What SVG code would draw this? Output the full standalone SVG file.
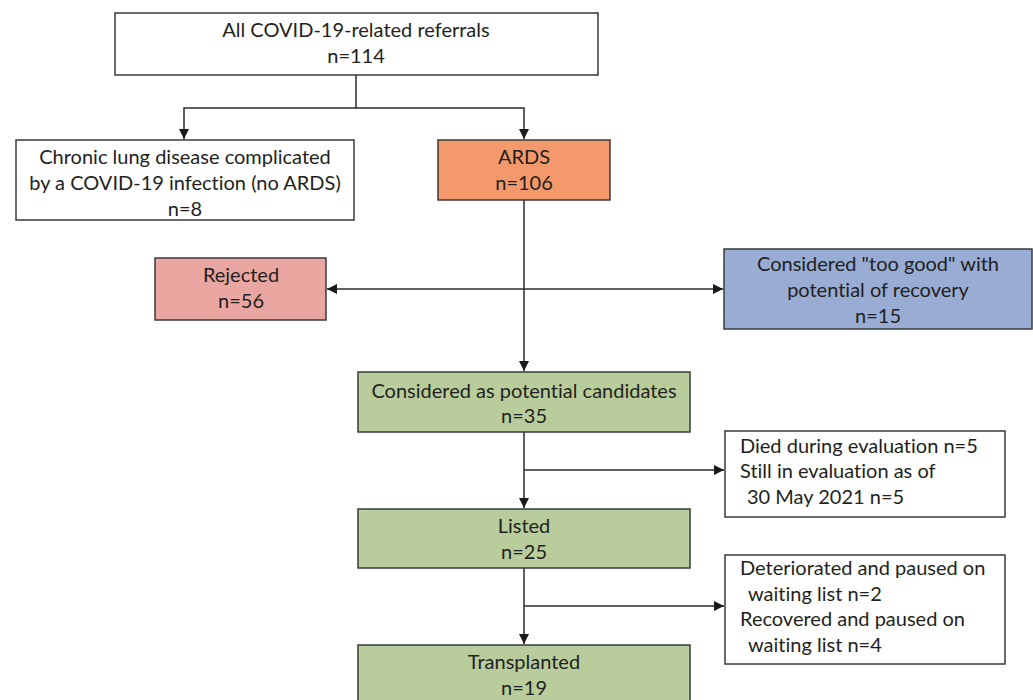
<svg xmlns="http://www.w3.org/2000/svg" width="1033" height="700" viewBox="0 0 1033 700">
<style>
.box{stroke:#3a3a3a;stroke-width:1.5}
.w{fill:#ffffff}
.t{font-family:Lato,"Liberation Sans",sans-serif;font-size:20px;fill:#231f20;font-variant-ligatures:none}
.c{text-anchor:middle}
.ln{fill:none;stroke:#2b2b2b;stroke-width:1.5}
</style>
<defs>
<marker id="ah" viewBox="0 0 10 10" refX="10" refY="5" markerWidth="10" markerHeight="10" markerUnits="userSpaceOnUse" orient="auto-start-reverse">
<path d="M0,0 L10,5 L0,10 z" fill="#1a1a1a"/>
</marker>
</defs>
<rect width="1033" height="700" fill="#ffffff"/>
<g id="connectors">
<path class="ln" d="M356,75 V108 H184 V139" marker-end="url(#ah)"/>
<path class="ln" d="M356,108 H524 V139" marker-end="url(#ah)"/>
<path class="ln" d="M524,200 V371" marker-end="url(#ah)"/>
<path class="ln" d="M327,289 H723" marker-start="url(#ah)" marker-end="url(#ah)"/>
<path class="ln" d="M524,432 V508" marker-end="url(#ah)"/>
<path class="ln" d="M524,470 H724" marker-end="url(#ah)"/>
<path class="ln" d="M524,568 V644" marker-end="url(#ah)"/>
<path class="ln" d="M524,606 H724" marker-end="url(#ah)"/>
</g>
<g id="all">
<rect class="box w" x="115" y="13" width="483" height="62"/>
<text class="t c" x="356" y="37">All COVID-19-related referrals</text>
<text class="t c" x="356" y="63">n=114</text>
</g>
<g id="chronic">
<rect class="box w" x="16" y="140" width="338" height="80"/>
<text class="t c" x="185" y="164">Chronic lung disease complicated</text>
<text class="t c" x="185" y="190">by a COVID-19 infection (no ARDS)</text>
<text class="t c" x="185" y="216">n=8</text>
</g>
<g id="ards">
<rect class="box" fill="#f4996b" x="438" y="140" width="172" height="60"/>
<text class="t c" x="524" y="164">ARDS</text>
<text class="t c" x="524" y="190">n=106</text>
</g>
<g id="rejected">
<rect class="box" fill="#eaa6a0" x="155" y="258" width="171" height="62"/>
<text class="t c" x="241" y="282">Rejected</text>
<text class="t c" x="241" y="308">n=56</text>
</g>
<g id="toogood">
<rect class="box" fill="#98acd4" x="724" y="249" width="308" height="80"/>
<text class="t c" x="878" y="271">Considered "too good" with</text>
<text class="t c" x="878" y="297">potential of recovery</text>
<text class="t c" x="878" y="323">n=15</text>
</g>
<g id="candidates">
<rect class="box" fill="#b9cd9c" x="358" y="372" width="332" height="60"/>
<text class="t c" x="524" y="398">Considered as potential candidates</text>
<text class="t c" x="524" y="423">n=35</text>
</g>
<g id="evaluation">
<rect class="box w" x="725" y="431" width="280" height="86"/>
<text class="t" x="740" y="453">Died during evaluation n=5</text>
<text class="t" x="740" y="478">Still in evaluation as of</text>
<text class="t" x="747" y="504">30 May 2021 n=5</text>
</g>
<g id="listed">
<rect class="box" fill="#b9cd9c" x="358" y="509" width="332" height="59"/>
<text class="t c" x="524" y="533">Listed</text>
<text class="t c" x="524" y="559">n=25</text>
</g>
<g id="paused">
<rect class="box w" x="725" y="555" width="280" height="109"/>
<text class="t" x="740" y="575">Deteriorated and paused on</text>
<text class="t" x="748" y="601">waiting list n=2</text>
<text class="t" x="740" y="626">Recovered and paused on</text>
<text class="t" x="748" y="652">waiting list n=4</text>
</g>
<g id="transplanted">
<rect class="box" fill="#b9cd9c" x="358" y="645" width="332" height="60"/>
<text class="t c" x="524" y="669">Transplanted</text>
<text class="t c" x="524" y="695">n=19</text>
</g>
</svg>
